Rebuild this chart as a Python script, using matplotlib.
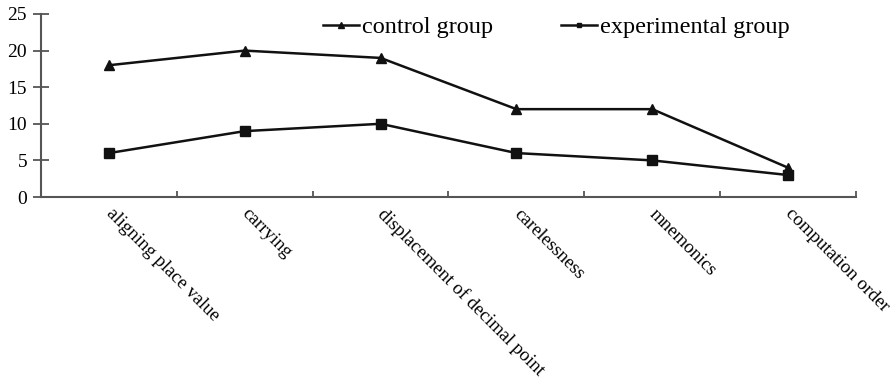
import numpy as np
import matplotlib.pyplot as plt
import matplotlib.transforms as mtransforms
from matplotlib.ticker import FixedLocator

# categories and values
categories = ["aligning place value", "carrying", "displacement of decimal point",
              "carelessness", "mnemonics", "computation order"]
control = [18, 20, 19, 12, 12, 4]
experimental = [6, 9, 10, 6, 5, 3]

plt.rcParams['font.family'] = ['Liberation Serif', 'DejaVu Serif']
plt.rcParams['font.size'] = 14

fig = plt.figure(figsize=(8.94, 3.83), dpi=100)
ax = fig.add_axes([41/894, 1-197/383, (856-41)/894, (197-14)/383])

x = np.arange(len(categories))
line_col = '#111111'
ax.plot(x, control, color=line_col, lw=1.8, marker='^', ms=7, label='control group')
ax.plot(x, experimental, color=line_col, lw=1.8, marker='s', ms=6.5, label='experimental group')

ax.set_xlim(-0.5, len(categories) - 0.5)
ax.set_ylim(0, 25)
ax.set_yticks(range(0, 26, 5))

for s in ['top', 'right']:
    ax.spines[s].set_visible(False)
for s in ['left', 'bottom']:
    ax.spines[s].set_color('#555555')
    ax.spines[s].set_linewidth(1.5)

ax.tick_params(axis='y', direction='inout', length=12, width=1.3, color='#555555',
               pad=4, labelsize=14)
ax.set_xticks(x)
ax.set_xticklabels(categories, rotation=-45, ha='left', va='top',
                   rotation_mode='anchor', fontsize=13.6)
ax.tick_params(axis='x', which='major', length=0, pad=6)
ax.xaxis.set_minor_locator(FixedLocator(np.arange(-0.5, len(categories), 1.0)))
ax.tick_params(axis='x', which='minor', direction='in', length=4, width=1.3, color='#555555')
shift = mtransforms.ScaledTranslation(6/100, 0, fig.dpi_scale_trans)
for lab in ax.get_xticklabels():
    lab.set_transform(lab.get_transform() + shift)

fig.legend(loc='upper left', bbox_to_anchor=(301/894, 1.015), ncol=2, frameon=False,
           handlelength=1.5, columnspacing=2.8, handletextpad=0.1, markerscale=0.55,
           fontsize=17.5)

fig.savefig('out.png', dpi=100)
